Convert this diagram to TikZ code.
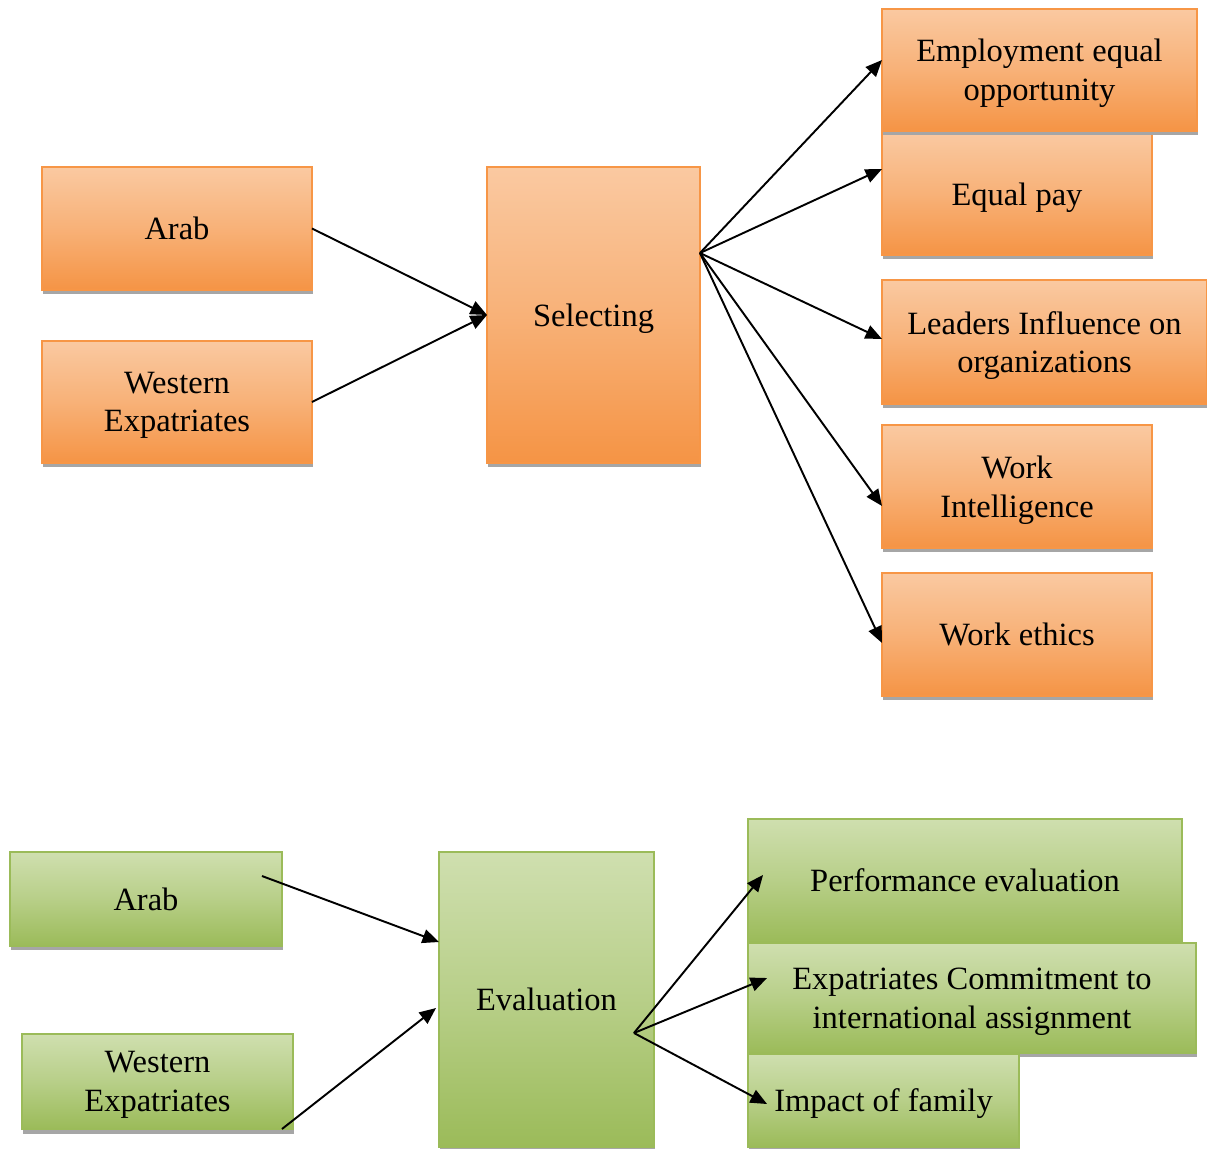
\documentclass[tikz,border=0pt]{standalone}
\usepackage{fontspec}
\setmainfont{Liberation Serif}
\usetikzlibrary{arrows.meta,shadows}
\definecolor{orangeline}{HTML}{F79646}
\definecolor{orangetop}{HTML}{FAC9A1}
\definecolor{orangebot}{HTML}{F59445}
\definecolor{greenline}{HTML}{9BBB59}
\definecolor{greentop}{HTML}{CFDFAF}
\definecolor{greenbot}{HTML}{9BBB59}
\definecolor{shadowgray}{HTML}{A6A6A6}

\begin{document}
\begin{tikzpicture}[x=0.02cm, y=-0.02cm,
  every node/.style={font=\fontsize{18.5}{22}\selectfont, align=center, inner sep=0pt, outer sep=0pt, text depth=0pt},
  obox/.style={draw=orangeline, line width=0.8pt, top color=orangetop, bottom color=orangebot, middle color=orangetop!55!orangebot, drop shadow={shadow xshift=0.02cm, shadow yshift=-0.09cm, fill=shadowgray, opacity=1}},
  gbox/.style={draw=greenline, line width=0.8pt, top color=greentop, bottom color=greenbot, middle color=greentop!55!greenbot, drop shadow={shadow xshift=0.02cm, shadow yshift=-0.09cm, fill=shadowgray, opacity=1}},
  link/.style={-{Triangle[length=0.33cm,width=0.28cm]}, line width=1.1pt}]
\useasboundingbox (0,0) rectangle (1207,1149);

\node[obox, minimum width=5.4cm, minimum height=2.46cm] (arab) at (177,228.5) {Arab};
\node[obox, minimum width=5.4cm, minimum height=2.44cm] (western) at (177,402) {Western\\Expatriates};
\node[obox, minimum width=4.26cm, minimum height=5.92cm] (selecting) at (593.5,315) {Selecting};
\node[obox, minimum width=5.4cm, minimum height=2.44cm] (pay) at (1017,194) {Equal pay};
\node[obox, minimum width=6.3cm, minimum height=2.44cm] (employment) at (1039.5,70) {Employment equal\\opportunity};
\node[obox, minimum width=6.5cm, minimum height=2.48cm] (leaders) at (1044.5,342) {Leaders Influence on\\organizations};
\node[obox, minimum width=5.4cm, minimum height=2.46cm] (intelligence) at (1017,486.5) {Work\\Intelligence};
\node[obox, minimum width=5.4cm, minimum height=2.46cm] (ethics) at (1017,634.5) {Work ethics};

\node[gbox, minimum width=5.44cm, minimum height=1.88cm] (arabb) at (146,899) {Arab};
\node[gbox, minimum width=5.42cm, minimum height=1.9cm] (westernb) at (157.5,1081.5) {Western\\Expatriates};
\node[gbox, minimum width=4.3cm, minimum height=5.9cm] (evaluation) at (546.5,999.5) {Evaluation};
\node[gbox, minimum width=8.68cm, minimum height=2.46cm] (performance) at (965,880.5) {Performance evaluation};
\node[gbox, minimum width=8.96cm, minimum height=2.2cm] (commitment) at (972,998) {Expatriates Commitment to\\international assignment};
\node[gbox, minimum width=5.42cm, minimum height=1.86cm] (family) at (883.5,1100.5) {Impact of family};

\coordinate (hubtop) at ([yshift=1.24cm]selecting.east);
\coordinate (hubbottom) at ([xshift=-0.4cm,yshift=-0.67cm]evaluation.east);

\draw[link] (arab.east) -- (selecting.west);
\draw[link] (western.east) -- (selecting.west);
\draw[link] (hubtop) -- ([yshift=0.2cm]employment.west);
\draw[link] (hubtop) -- ([yshift=0.5cm]pay.west);
\draw[link] (hubtop) -- ([yshift=0.06cm]leaders.west);
\draw[link] (hubtop) -- ([yshift=-0.39cm]intelligence.west);
\draw[link] (hubtop) -- ([yshift=-0.17cm]ethics.west);

\draw[link] ([xshift=-0.4cm,yshift=0.46cm]arabb.east) -- ([yshift=1.15cm]evaluation.west);
\draw[link] ([xshift=-0.22cm]westernb.south east) -- ([xshift=-0.06cm,yshift=-0.17cm]evaluation.west);
\draw[link] (hubbottom) -- ([xshift=0.3cm,yshift=0.11cm]performance.west);
\draw[link] (hubbottom) -- ([xshift=0.38cm,yshift=0.4cm]commitment.west);
\draw[link] (hubbottom) -- ([xshift=0.38cm,yshift=-0.07cm]family.west);
\end{tikzpicture}
\end{document}
